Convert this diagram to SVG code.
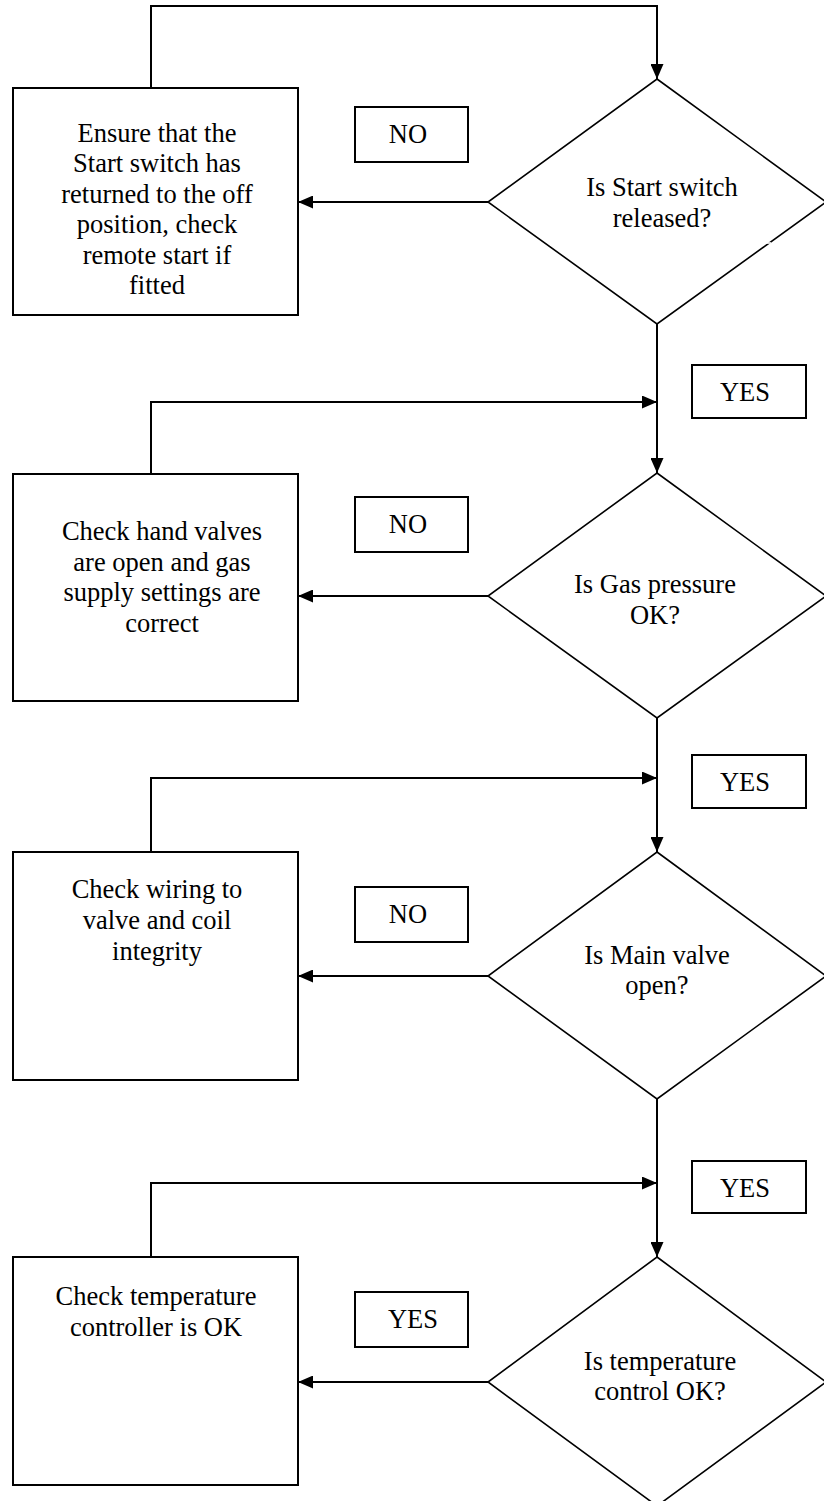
<svg xmlns="http://www.w3.org/2000/svg" width="824" height="1501" viewBox="0 0 824 1501">
  <style>
    .box { fill: #fff; stroke: #000; stroke-width: 2; }
    .dia { fill: #fff; stroke: #000; stroke-width: 1.6; }
    .tag { fill: #fff; stroke: #000; stroke-width: 2; }
    .wire { fill: none; stroke: #000; stroke-width: 2; }
    text { font-family: "Liberation Serif", "Times New Roman", serif; font-size: 26.5px; fill: #000; text-anchor: middle; }
  </style>
  <defs>
    <marker id="arrow" markerUnits="userSpaceOnUse" markerWidth="15" markerHeight="13" refX="15" refY="6.5" orient="auto">
      <path d="M0,0 L15,6.5 L0,13 Z" fill="#000"/>
    </marker>
  </defs>
  <rect width="824" height="1501" fill="#fff"/>

  <!-- connectors -->
  <g id="connectors" class="wire">
    <!-- return loops from each action box back to the main line -->
    <path d="M151,88 V6 H657 V79" marker-end="url(#arrow)"/>
    <path d="M151,474 V402 H657" marker-end="url(#arrow)"/>
    <path d="M151,852 V778 H657" marker-end="url(#arrow)"/>
    <path d="M151,1257 V1183 H657" marker-end="url(#arrow)"/>
    <!-- main line between decisions -->
    <path d="M657,324 V473" marker-end="url(#arrow)"/>
    <path d="M657,718 V852" marker-end="url(#arrow)"/>
    <path d="M657,1099 V1257" marker-end="url(#arrow)"/>
    <!-- branch from each decision to its action box -->
    <path d="M488,202 H298" marker-end="url(#arrow)"/>
    <path d="M488,596 H298" marker-end="url(#arrow)"/>
    <path d="M488,976 H298" marker-end="url(#arrow)"/>
    <path d="M488,1382 H298" marker-end="url(#arrow)"/>
  </g>

  <!-- decision 1 -->
  <g id="d-start-switch">
    <polygon class="dia" points="657,79 826,202 657,324 488,202"/>
    <line x1="764" y1="243" x2="771" y2="243" stroke="#fff" stroke-width="1.6"/>
    <text x="662" y="196">Is Start switch</text>
    <text x="662" y="227">released?</text>
  </g>
  <g id="a-start-switch">
    <rect class="box" x="13" y="88" width="285" height="227"/>
    <text x="157" y="142">Ensure that the</text>
    <text x="157" y="172.4">Start switch has</text>
    <text x="157" y="202.8">returned to the off</text>
    <text x="157" y="233.2">position, check</text>
    <text x="157" y="263.6">remote start if</text>
    <text x="157" y="294">fitted</text>
  </g>
  <g id="l-no-1">
    <rect class="tag" x="355" y="107" width="113" height="55"/>
    <text x="408" y="143">NO</text>
  </g>

  <!-- decision 2 -->
  <g id="l-yes-1">
    <rect class="tag" x="692" y="365" width="114" height="53"/>
    <text x="745" y="401">YES</text>
  </g>
  <g id="d-gas-pressure">
    <polygon class="dia" points="657,473 826,596 657,718 488,596"/>
    <text x="655" y="593">Is Gas pressure</text>
    <text x="655" y="624">OK?</text>
  </g>
  <g id="a-gas-pressure">
    <rect class="box" x="13" y="474" width="285" height="227"/>
    <text x="162" y="540">Check hand valves</text>
    <text x="162" y="570.5">are open and gas</text>
    <text x="162" y="601">supply settings are</text>
    <text x="162" y="631.5">correct</text>
  </g>
  <g id="l-no-2">
    <rect class="tag" x="355" y="497" width="113" height="55"/>
    <text x="408" y="533">NO</text>
  </g>

  <!-- decision 3 -->
  <g id="l-yes-2">
    <rect class="tag" x="692" y="755" width="114" height="53"/>
    <text x="745" y="791">YES</text>
  </g>
  <g id="d-main-valve">
    <polygon class="dia" points="657,852 826,976 657,1099 488,976"/>
    <text x="657" y="964">Is Main valve</text>
    <text x="657" y="994">open?</text>
  </g>
  <g id="a-main-valve">
    <rect class="box" x="13" y="852" width="285" height="228"/>
    <text x="157" y="898">Check wiring to</text>
    <text x="157" y="929">valve and coil</text>
    <text x="157" y="960">integrity</text>
  </g>
  <g id="l-no-3">
    <rect class="tag" x="355" y="887" width="113" height="55"/>
    <text x="408" y="923">NO</text>
  </g>

  <!-- decision 4 -->
  <g id="l-yes-3">
    <rect class="tag" x="692" y="1161" width="114" height="52"/>
    <text x="745" y="1197">YES</text>
  </g>
  <g id="d-temperature">
    <polygon class="dia" points="657,1257 826,1382 657,1506 488,1382"/>
    <text x="660" y="1370">Is temperature</text>
    <text x="660" y="1400">control OK?</text>
  </g>
  <g id="a-temperature">
    <rect class="box" x="13" y="1257" width="285" height="228"/>
    <text x="156" y="1305">Check temperature</text>
    <text x="156" y="1336">controller is OK</text>
  </g>
  <g id="l-yes-4">
    <rect class="tag" x="355" y="1292" width="113" height="55"/>
    <text x="413" y="1328">YES</text>
  </g>
</svg>
